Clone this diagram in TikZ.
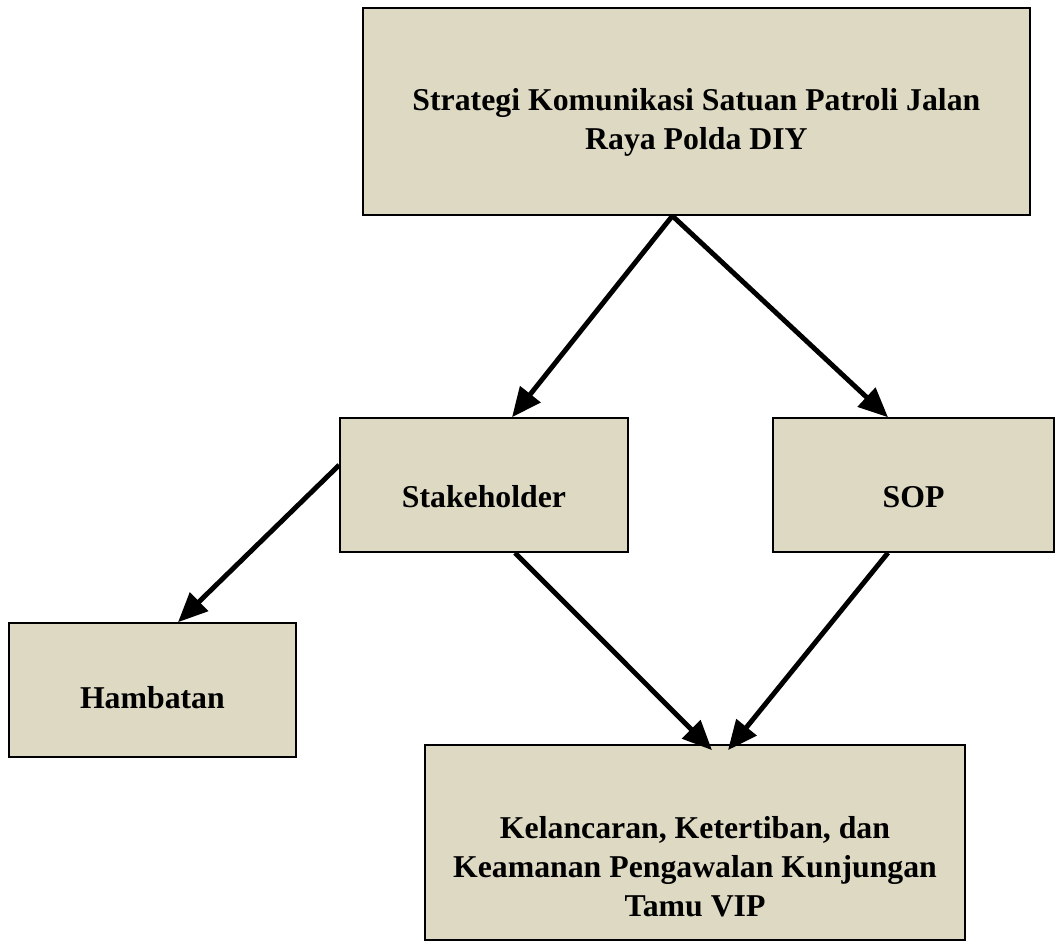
\documentclass[tikz,border=0pt]{standalone}
\usepackage{fontspec}
\setmainfont{Liberation Serif}
\usetikzlibrary{arrows.meta}
\definecolor{boxtan}{HTML}{DDD9C3}
\begin{document}
\begin{tikzpicture}
\tikzstyle{block} = [rectangle, draw, line width=1.1pt, fill=boxtan, align=center, text depth=0pt, font=\fontsize{22.6}{27.8}\selectfont\bfseries]
\tikzstyle{arrow} = [line width=3.5pt, -{Triangle[length=21pt,width=18pt]}]

\fill[white] (0,0) rectangle (26.4,-23.6);

\node (strategi) [block, minimum width=16.675cm, minimum height=5.175cm, text height=54pt] at (17.41,-2.79) {Strategi Komunikasi Satuan Patroli Jalan\\Raya Polda DIY};
\node (stake) [block, minimum width=7.2cm, minimum height=3.35cm, text height=32.6pt] at (12.1,-12.125) {Stakeholder};
\node (sop) [block, minimum width=7.025cm, minimum height=3.35cm, text height=32.6pt] at (22.84,-12.125) {SOP};
\node (hambatan) [block, minimum width=7.175cm, minimum height=3.35cm, text height=27pt] at (3.81,-17.25) {Hambatan};
\node (hasil) [block, minimum width=13.5cm, minimum height=4.875cm, text height=106pt] at (17.375,-21.06) {Kelancaran, Ketertiban, dan\\Keamanan Pengawalan Kunjungan\\Tamu VIP};

\draw [arrow] ([xshift=-0.6cm]strategi.south) -- ([xshift=0.7cm]stake.north);
\draw [arrow] ([xshift=-0.6cm]strategi.south) -- ([xshift=-0.64cm]sop.north);
\draw [arrow] ([yshift=0.5cm]stake.west) -- ([xshift=0.64cm]hambatan.north);
\draw [arrow] ([xshift=0.775cm]stake.south) -- ([xshift=0.425cm,yshift=-0.15cm]hasil.north);
\draw [arrow] ([xshift=-0.64cm]sop.south) -- ([xshift=0.825cm,yshift=-0.15cm]hasil.north);
\end{tikzpicture}
\end{document}
